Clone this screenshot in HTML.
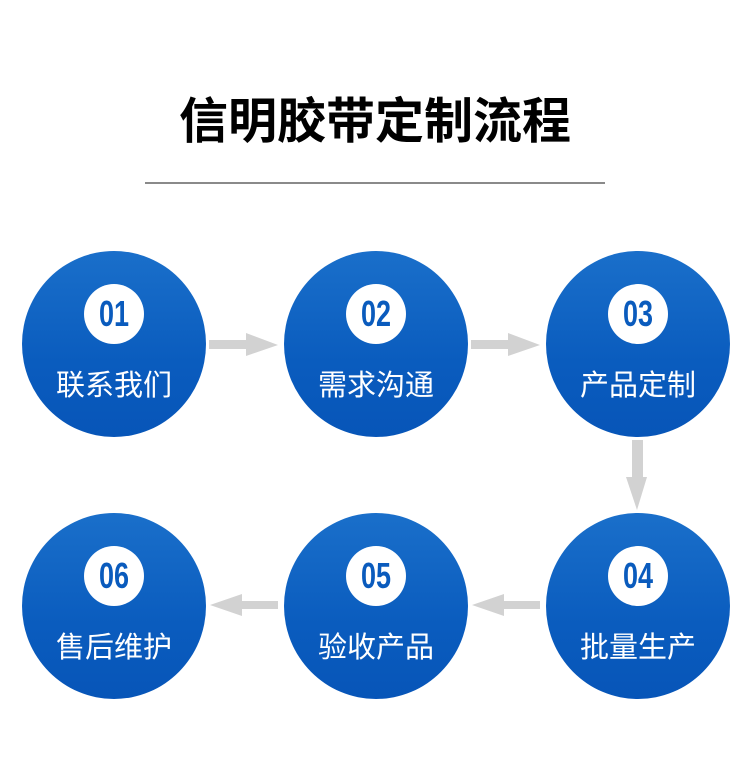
<!DOCTYPE html>
<html><head><meta charset="utf-8"><style>
body{margin:0;width:750px;height:783px;background:#fff;position:relative;overflow:hidden;font-family:"Liberation Sans","Noto Sans CJK SC",sans-serif}
.t{position:absolute;left:0;width:750px;top:90px;text-align:center;font-size:49px;font-weight:bold;color:#000;line-height:64px}
.ln{position:absolute;left:145px;top:182px;width:460px;height:2px;background:#8a8a8a}
.c{position:absolute;width:184px;height:186px;border-radius:50%;background:linear-gradient(#1a6fca,#0a5cbe 60%,#0755b8)}
.b{position:absolute;left:62px;top:33px;width:60px;height:60px;border-radius:50%;background:#fff;color:#0a5bbd;font-family:"Liberation Sans",sans-serif;font-weight:bold;font-size:36px;line-height:60px;text-align:center}
.b span{display:inline-block;transform:scaleX(0.75)}
.l{position:absolute;left:0;width:184px;top:117px;text-align:center;color:#fff;font-size:29px;line-height:36px}
</style></head><body>
<div class="t">信明胶带定制流程</div>
<div class="ln"></div>
<div class="c" style="left:22px;top:251px"><div class="b"><span>01</span></div><div class="l">联系我们</div></div>
<div class="c" style="left:284px;top:251px"><div class="b"><span>02</span></div><div class="l">需求沟通</div></div>
<div class="c" style="left:546px;top:251px"><div class="b"><span>03</span></div><div class="l">产品定制</div></div>
<div class="c" style="left:546px;top:513px"><div class="b"><span>04</span></div><div class="l">批量生产</div></div>
<div class="c" style="left:284px;top:513px"><div class="b"><span>05</span></div><div class="l">验收产品</div></div>
<div class="c" style="left:22px;top:513px"><div class="b"><span>06</span></div><div class="l">售后维护</div></div>
<svg width="750" height="783" style="position:absolute;left:0;top:0" fill="#d2d2d2">
<polygon points="209,340 246,340 246,333 278,345 246,356 246,349 209,349"/>
<polygon points="471,340 508,340 508,333 540,345 508,356 508,349 471,349"/>
<polygon points="632,440 643,440 643,477 647,477 637,510 626,477 632,477"/>
<polygon points="540,601 504,601 504,594 472,605 504,616 504,609 540,609"/>
<polygon points="278,601 242,601 242,594 210,605 242,616 242,609 278,609"/>
</svg>
</body></html>
